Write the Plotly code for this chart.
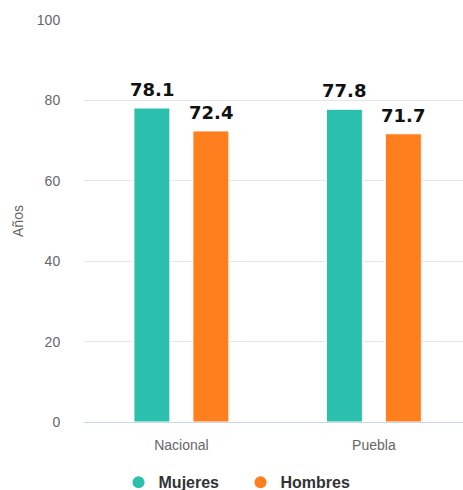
import plotly.graph_objects as go

categories = ["Nacional", "Puebla"]
mujeres = [78.1, 77.8]
hombres = [72.4, 71.7]
series_names = ["Mujeres", "Hombres"]
y_ticks = [0, 20, 40, 60, 80, 100]

colors = ["#2bbfad", "#ff7f1f"]
label_font = dict(family="DejaVu Sans", size=18, color="#111111", weight="bold")

fig = go.Figure()
for name, vals, col in zip(series_names, [mujeres, hombres], colors):
    fig.add_trace(go.Bar(
        x=categories, y=vals, name=name, showlegend=False,
        marker=dict(color=col, line=dict(color="white", width=1)),
    ))

# value labels above each bar, offset to the bar's slot within the group
slot_px = 59
for i, vals in enumerate([mujeres, hombres]):
    shift = (i - 0.5) * slot_px
    for cat, v in zip(categories, vals):
        fig.add_annotation(x=cat, y=v, xref="x", yref="y", text=f"{v:.1f}",
                           showarrow=False, xshift=shift, yshift=6,
                           yanchor="bottom", font=label_font)

# legend entries with round symbols
for name, col in zip(series_names, colors):
    fig.add_trace(go.Scatter(
        x=[None], y=[None], mode="markers", name=name,
        marker=dict(symbol="circle", size=15, color=col),
    ))

fig.update_layout(
    width=463, height=490,
    margin=dict(l=84, r=0, t=20, b=68, autoexpand=False),
    plot_bgcolor="white", paper_bgcolor="white",
    barmode="group", bargap=0.387, bargroupgap=0.39,
    showlegend=True,
    legend=dict(orientation="h", x=0.413, xanchor="center", y=-0.15, yanchor="middle",
                font=dict(family="Arial", size=16, color="#333333", weight="bold"),
                itemsizing="constant", traceorder="normal", itemwidth=30,
                entrywidth=77, entrywidthmode="pixels"),
    xaxis=dict(type="category", range=[-0.506, 1.463], showgrid=False,
               showline=True, linecolor="#ccd6eb", linewidth=1,
               tickfont=dict(family="Arial", size=14, color="#666666"),
               ticks="outside", ticklen=10, tickcolor="white"),
    yaxis=dict(range=[0, 100], tickvals=y_ticks, showgrid=True, gridcolor="#e6e6e6",
               zeroline=False, showline=False,
               tickfont=dict(family="Arial", size=14, color="#666666"),
               ticks="outside", ticklen=20, tickcolor="white",
               title=dict(text="Años", font=dict(family="Arial", size=14, color="#666666"),
                          standoff=9)),
)

fig.write_html("out.html")
